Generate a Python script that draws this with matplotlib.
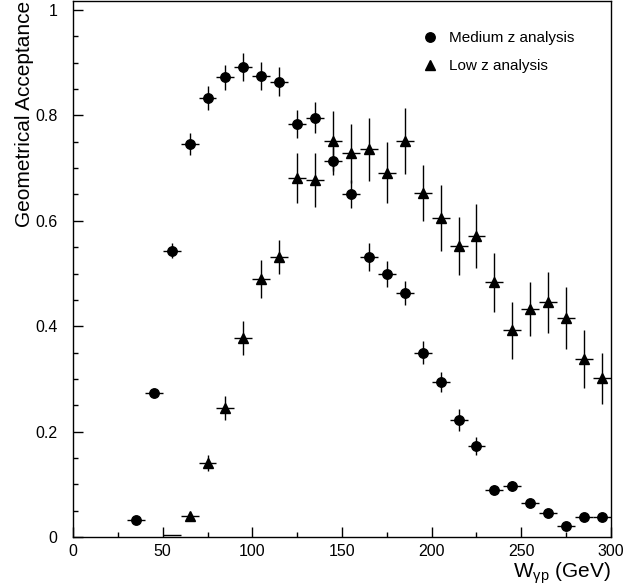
import numpy as np
import matplotlib
matplotlib.use("Agg")
import matplotlib.pyplot as plt
from matplotlib.ticker import MultipleLocator

plt.rcParams['font.family'] = ['Liberation Sans', 'DejaVu Sans']
plt.rcParams['mathtext.fontset'] = 'custom'
plt.rcParams['mathtext.rm'] = 'Liberation Sans'
plt.rcParams['mathtext.it'] = 'Liberation Sans'

# W_gamma-p bin centres (GeV), bins are 10 GeV wide
w_med = [35, 45, 55, 65, 75, 85, 95, 105, 115, 125, 135, 145, 155, 165, 175,
         185, 195, 205, 215, 225, 235, 245, 255, 265, 275, 285, 295]
acc_med = [0.032, 0.273, 0.543, 0.745, 0.833, 0.872, 0.892, 0.875, 0.864,
           0.784, 0.796, 0.714, 0.651, 0.531, 0.499, 0.463, 0.350, 0.294,
           0.222, 0.173, 0.090, 0.097, 0.065, 0.045, 0.020, 0.037, 0.037]
err_med = [0.005, 0.006, 0.014, 0.021, 0.023, 0.024, 0.026, 0.027, 0.027,
           0.027, 0.029, 0.027, 0.027, 0.027, 0.024, 0.022, 0.022, 0.019,
           0.020, 0.017, 0.008, 0.010, 0.006, 0.006, 0.006, 0.005, 0.005]

w_low = [65, 75, 85, 95, 105, 115, 125, 135, 145, 155, 165, 175, 185, 195,
         205, 215, 225, 235, 245, 255, 265, 275, 285, 295]
acc_low = [0.040, 0.141, 0.245, 0.377, 0.489, 0.531, 0.681, 0.677, 0.752,
           0.728, 0.736, 0.691, 0.752, 0.652, 0.605, 0.553, 0.571, 0.483,
           0.392, 0.433, 0.445, 0.415, 0.337, 0.301]
err_low = [0.008, 0.015, 0.023, 0.032, 0.036, 0.032, 0.048, 0.051, 0.057,
           0.056, 0.060, 0.058, 0.063, 0.053, 0.062, 0.055, 0.061, 0.056,
           0.054, 0.051, 0.057, 0.059, 0.055, 0.048]

# empty low z bin (no marker visible)
w_low0 = [55]
acc_low0 = [0.004]

half_bin = 5

fig = plt.figure(figsize=(6.23, 5.87), dpi=100)
ax = fig.add_axes([0.1172, 0.0852, 0.8635, 0.9130])

ax.errorbar(w_med, acc_med, yerr=err_med, xerr=half_bin, fmt='none',
            ecolor='black', elinewidth=1.0, capsize=0)
ax.errorbar(w_low, acc_low, yerr=err_low, xerr=half_bin, fmt='none',
            ecolor='black', elinewidth=1.0, capsize=0)
ax.errorbar(w_low0, acc_low0, xerr=half_bin, fmt='none',
            ecolor='black', elinewidth=1.0, capsize=0)
ax.plot(w_med, acc_med, 'o', color='black', ms=6.8, ls='none',
        label='Medium z analysis')
ax.plot(w_low, acc_low, '^', color='black', ms=6.5, ls='none',
        label='Low z analysis')

ax.set_xlim(0, 300)
ax.set_ylim(0, 1.017)
ax.xaxis.set_major_locator(MultipleLocator(50))
ax.xaxis.set_minor_locator(MultipleLocator(25))
ax.yaxis.set_minor_locator(MultipleLocator(0.05))
ax.set_yticks([0, 0.2, 0.4, 0.6, 0.8, 1.0])
ax.set_yticklabels(['0', '0.2', '0.4', '0.6', '0.8', '1'])
ax.tick_params(which='both', direction='in', top=False, right=False,
               labelsize=11.5, width=1.0)
ax.tick_params(which='major', length=7.2)
ax.tick_params(which='minor', length=3.6)
ax.tick_params(axis='y', pad=11)
ax.tick_params(axis='x', pad=5)
for s in ax.spines.values():
    s.set_linewidth(1.0)

ax.set_ylabel('Geometrical Acceptance', fontsize=15, loc='top')
ax.yaxis.set_label_coords(-0.072, 1.0)
ax.set_xlabel(r'W$_{\gamma\mathrm{p}}$ (GeV)', fontsize=15, loc='right',
              labelpad=1)

ax.legend(loc='upper left', bbox_to_anchor=(0.623, 0.97), frameon=False,
          fontsize=11, handlelength=1.0, handletextpad=0.75, labelspacing=0.95)

fig.savefig('out.png', dpi=100)
